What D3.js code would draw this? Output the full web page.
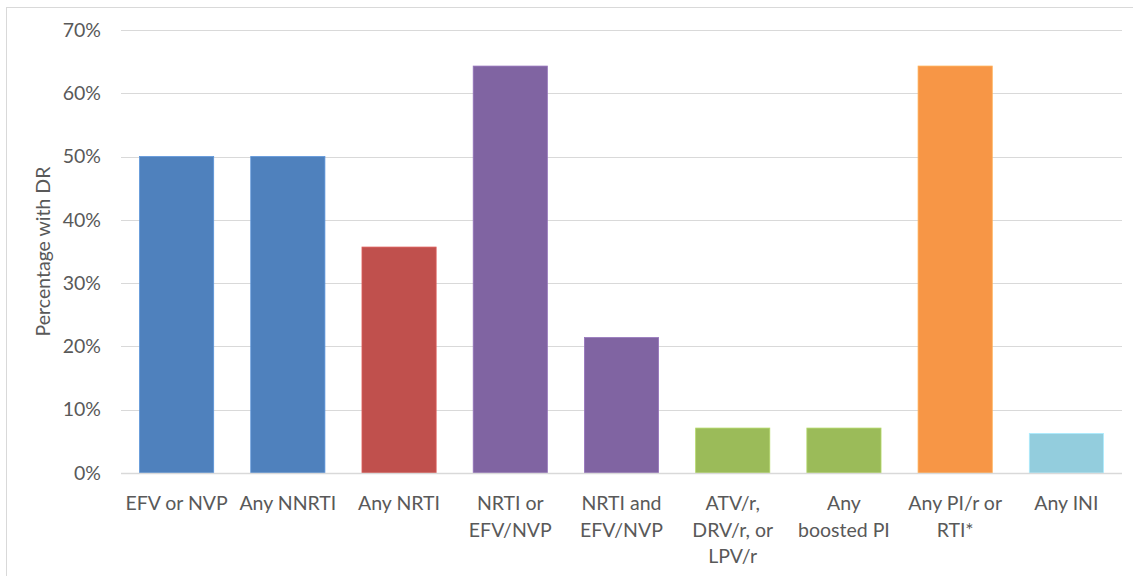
<!DOCTYPE html>
<html>
<head>
<meta charset="utf-8">
<script src="https://cdn.jsdelivr.net/npm/d3@7"></script>
<style>
  html, body { margin: 0; padding: 0; background: #fff; }
  svg { display: block; }
  text { font-family: Lato, "Open Sans", sans-serif; fill: #595959; }
</style>
</head>
<body>
<svg id="chart" width="1133" height="576"></svg>
<script>
// Drug-class categories, each label split into its display lines
const categoryLines = [
  ["EFV or NVP"],
  ["Any NNRTI"],
  ["Any NRTI"],
  ["NRTI or", "EFV/NVP"],
  ["NRTI and", "EFV/NVP"],
  ["ATV/r,", "DRV/r, or", "LPV/r"],
  ["Any", "boosted PI"],
  ["Any PI/r or", "RTI*"],
  ["Any INI"]
];
const categories = categoryLines.map(l => l.join(" "));

// Share of patients with drug resistance (fraction)
const values = [0.5, 0.5, 0.357, 0.643, 0.214, 0.071, 0.071, 0.643, 0.0625];

// Bar fill per category
const barColors = ["#4F81BD", "#4F81BD", "#C0504D", "#8064A2", "#8064A2",
                   "#9BBB59", "#9BBB59", "#F79646", "#93CDDD"];

// Y-axis ticks
const yTicks = [0, 0.1, 0.2, 0.3, 0.4, 0.5, 0.6, 0.7];

const yTitle = "Percentage with DR";

const svg = d3.select("#chart");

// Chart-area frame
svg.append("rect")
  .attr("x", 6.5).attr("y", 7.5)
  .attr("width", 1160).attr("height", 620)
  .attr("fill", "none").attr("stroke", "#d9d9d9").attr("stroke-width", 1);

const plot = { left: 121, right: 1122, top: 30, bottom: 473 };

const x = d3.scaleBand()
  .domain(categories)
  .range([plot.left, plot.right])
  .paddingInner(1 / 3)
  .paddingOuter(1 / 6);

const y = d3.scaleLinear()
  .domain([0, 0.7])
  .range([plot.bottom, plot.top]);

// Horizontal gridlines
svg.append("g")
  .selectAll("line")
  .data(yTicks)
  .join("line")
  .attr("x1", plot.left).attr("x2", plot.right)
  .attr("y1", d => Math.round(y(d)) + 0.5)
  .attr("y2", d => Math.round(y(d)) + 0.5)
  .attr("stroke", "#d9d9d9").attr("stroke-width", 1);

// Bars
svg.append("g")
  .selectAll("rect")
  .data(values)
  .join("rect")
  .attr("x", (d, i) => x(categories[i]))
  .attr("width", x.bandwidth())
  .attr("y", d => y(d))
  .attr("height", d => y(0) - y(d))
  .attr("fill", (d, i) => barColors[i])
  .attr("stroke", (d, i) => d3.color(barColors[i]).brighter(0.4))
  .attr("stroke-width", 0.8);

// Baseline axis line
svg.append("line")
  .attr("x1", plot.left).attr("x2", plot.right)
  .attr("y1", Math.round(y(0)) + 0.5).attr("y2", Math.round(y(0)) + 0.5)
  .attr("stroke", "#d9d9d9").attr("stroke-width", 1.3);

// Y-axis tick labels
const yAxis = d3.axisLeft(y)
  .tickValues(yTicks)
  .tickFormat(d3.format(".0%"))
  .tickSize(0)
  .tickPadding(20);

const yg = svg.append("g")
  .attr("transform", `translate(${plot.left},0)`)
  .call(yAxis);
yg.select(".domain").remove();
yg.selectAll("text")
  .attr("font-family", "Lato, 'Open Sans', sans-serif")
  .attr("font-size", 19.5)
  .attr("fill", "#595959");

// Category labels (multi-line)
const xg = svg.append("g");
categoryLines.forEach((lines, i) => {
  const cx = x(categories[i]) + x.bandwidth() / 2;
  const t = xg.append("text")
    .attr("text-anchor", "middle")
    .attr("font-size", 19.5);
  lines.forEach((ln, j) => {
    t.append("tspan")
      .attr("x", cx)
      .attr("y", 510 + j * 26.5)
      .text(ln);
  });
});

// Y-axis title
svg.append("text")
  .attr("transform", `translate(50,${(plot.top + plot.bottom) / 2}) rotate(-90)`)
  .attr("text-anchor", "middle")
  .attr("font-size", 19.5)
  .text(yTitle);
</script>
</body>
</html>
